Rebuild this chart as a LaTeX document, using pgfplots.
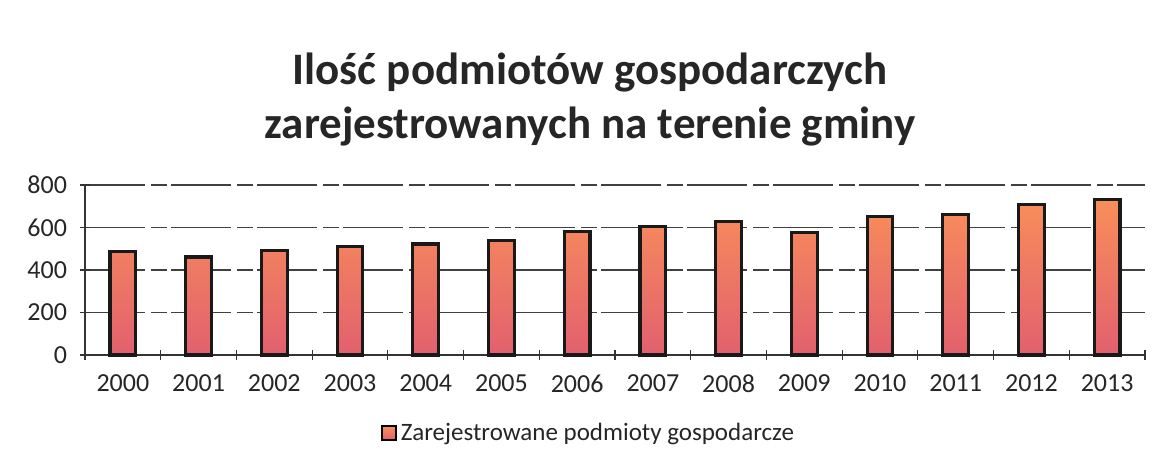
\documentclass[border=0pt]{standalone}
\usepackage{pgfplots}
\pgfplotsset{compat=1.18}
\usepackage{fontspec}
\setmainfont{Carlito}
\definecolor{bartop}{HTML}{F88E5A}
\definecolor{barbot}{HTML}{E2606E}
\definecolor{legfill}{HTML}{F07E6C}
\begin{document}
\begin{tikzpicture}
\useasboundingbox (0,0) rectangle (579.5pt,234pt);
\node[font=\fontsize{22.5}{27}\selectfont\bfseries, align=center, text=black!85] at (295pt,184pt)
  {Ilość podmiotów gospodarczych\\[0pt]zarejestrowanych na terenie gminy};
\begin{axis}[
  at={(42.5pt,56.5pt)}, anchor=south west,
  scale only axis, width=530pt, height=85pt,
  xmin=-0.5, xmax=13.5, ymin=0, ymax=800,
  ytick={0,200,...,800},
  xtick={0,...,13},
  xticklabels={2000,2001,2002,2003,2004,2005,2006,2007,2008,2009,2010,2011,2012,2013},
  minor xtick={-0.5,0.5,...,13.5},
  major x tick style={draw=none},
  minor x tick style={black!80, semithick},
  ytick style={black!80, semithick},
  minor tick length=5pt, major tick length=5pt,
  tick align=outside,
  axis x line=bottom, axis y line=left,
  axis line style={black!80, semithick, -},
  ymajorgrids, grid style={black!75, semithick, dash pattern=on 30pt off 3pt on 8pt off 2pt},
  /pgf/number format/assume math mode=true,
  tick label style={font=\fontsize{13}{13}\selectfont, text=black!85},
  xticklabel style={yshift=-4pt},
  yticklabel style={xshift=-3pt},
  legend style={at={(0.476,-0.46)}, anchor=center, draw=none, fill=none,
    font=\fontsize{12.5}{12.5}\selectfont, text=black!85},
  legend image code/.code={\draw[black, thick, fill=legfill] (0pt,-3.5pt) rectangle (7pt,3.5pt);},
  clip=false,
]
\addplot[ybar, bar width=0.34, draw=black!90, line width=1.6pt, top color=bartop, bottom color=barbot]
  coordinates {(0,487) (1,461) (2,493) (3,512) (4,522) (5,537) (6,582) (7,605) (8,628) (9,578) (10,651) (11,660) (12,708) (13,730)};
\addlegendentry{Zarejestrowane podmioty gospodarcze}
\end{axis}
\end{tikzpicture}
\end{document}
